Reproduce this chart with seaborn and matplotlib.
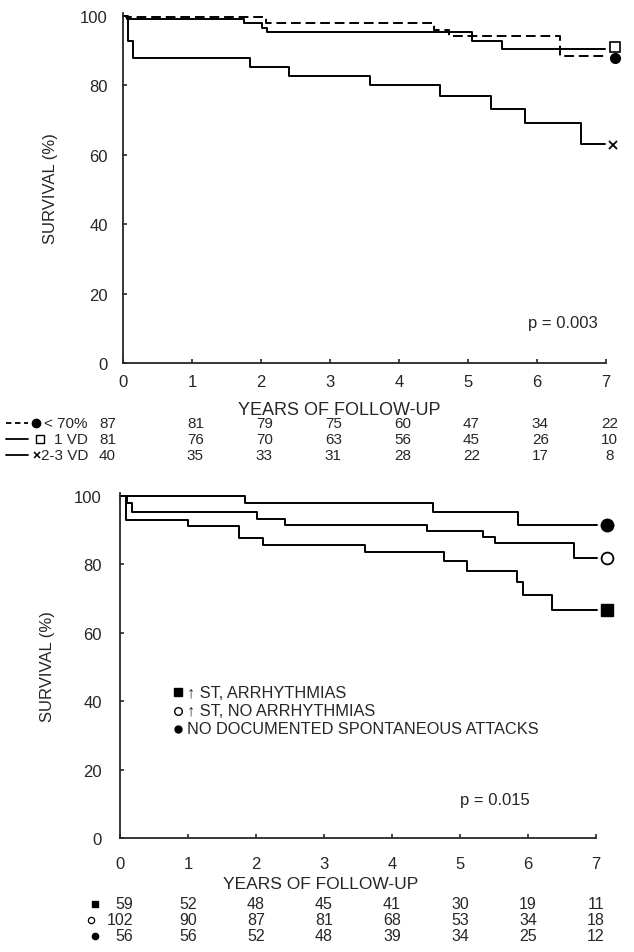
import numpy as np
import pandas as pd
import seaborn as sns
from matplotlib import pyplot as plt
from matplotlib import transforms
from matplotlib.lines import Line2D

sns.set_style('ticks')
plt.rcParams['font.family'] = ['Liberation Sans', 'DejaVu Sans']

# ---- data ----
years = [0, 1, 2, 3, 4, 5, 6, 7]

# top panel: ejection fraction / vessel disease groups
lt70_t = [0, 0.05, 2.07, 4.50, 4.73, 6.34, 6.98]
lt70_s = [100, 99.6, 98.0, 96.1, 94.1, 88.4, 88.4]
vd1_t = [0, 0.06, 1.75, 2.01, 2.09, 5.06, 5.49, 6.98]
vd1_s = [100, 99.1, 97.9, 96.6, 95.3, 92.9, 90.4, 90.4]
vd23_t = [0, 0.07, 0.14, 1.84, 2.41, 3.58, 4.59, 5.33, 5.83, 6.64, 6.98]
vd23_s = [100, 92.9, 87.8, 85.2, 82.6, 80.0, 76.8, 73.3, 69.3, 63.0, 63.0]
top_end = {'lt70': 87.9, 'vd1': 91.0, 'vd23': 62.7}
top_risk = {'lt70': [87, 81, 79, 75, 60, 47, 34, 22],
            'vd1': [81, 76, 70, 63, 56, 45, 26, 10],
            'vd23': [40, 35, 33, 31, 28, 22, 17, 8]}
top_p = 'p = 0.003'

# bottom panel: ST / arrhythmia groups
arr_t = [0, 0.09, 1.0, 1.75, 2.1, 3.6, 4.76, 5.1, 5.84, 5.92, 6.35, 7.01]
arr_s = [100, 93.1, 91.1, 87.7, 85.7, 83.6, 80.9, 78.2, 74.8, 71.2, 66.8, 66.8]
noarr_t = [0, 0.10, 0.17, 2.01, 2.43, 4.51, 5.34, 5.51, 6.68, 7.01]
noarr_s = [100, 98.1, 95.2, 93.3, 91.4, 89.9, 87.9, 86.2, 82.0, 82.0]
noatt_t = [0, 1.84, 4.60, 5.86, 7.01]
noatt_s = [100, 98.0, 95.2, 91.6, 91.6]
bot_end = {'arr': 66.8, 'noarr': 82.0, 'noatt': 91.6}
bot_risk = {'arr': [59, 52, 48, 45, 41, 30, 19, 11],
            'noarr': [102, 90, 87, 81, 68, 53, 34, 18],
            'noatt': [56, 56, 52, 48, 39, 34, 25, 12]}
bot_labels = {'arr': '\u2191 ST, ARRHYTHMIAS',
              'noarr': '\u2191 ST, NO ARRHYTHMIAS',
              'noatt': 'NO DOCUMENTED SPONTANEOUS ATTACKS'}
bot_p = 'p = 0.015'

W, H = 634, 953
fig = plt.figure(figsize=(W / 100, H / 100), dpi=100)


def fx(px):
    return px / W


def fy(py):
    return 1 - py / H


ax1 = fig.add_axes([fx(123), fy(364), 503.7 / W, 350.5 / H])
ax2 = fig.add_axes([fx(120), fy(839), 496.4 / W, 345.4 / H])


def style_axis(ax, xpad, ypad, label_xy, xlab_size):
    ax.set_xlim(0, 7.3)
    ax.set_ylim(0, 101)
    ax.set_xticks(years)
    ax.set_yticks(range(0, 101, 20))
    sns.despine(ax=ax)
    ax.spines['bottom'].set_bounds(0, 7)
    for s in ['left', 'bottom']:
        ax.spines[s].set_linewidth(1.3)
    ax.tick_params(axis='both', direction='in', length=3, width=1.2, labelsize=12)
    ax.tick_params(axis='x', pad=xpad)
    ax.tick_params(axis='y', pad=ypad)
    ax.set_ylabel('SURVIVAL (%)', fontsize=12)
    ax.yaxis.set_label_coords(label_xy[0], 0.5)
    ax.set_xlabel('YEARS OF FOLLOW-UP', fontsize=xlab_size)
    ax.xaxis.set_label_coords(label_xy[1], label_xy[2])


def km(ax, t, s, **kw):
    sns.lineplot(x=t, y=s, ax=ax, color='black', estimator=None, sort=False,
                 drawstyle='steps-post', lw=1.4, clip_on=False, **kw)


# ---- top panel ----
km(ax1, lt70_t, lt70_s, linestyle=(0, (5, 2.5)))
km(ax1, vd1_t, vd1_s)
km(ax1, vd23_t, vd23_s)
ax1.plot([7.13], [top_end['lt70']], 'o', color='k', ms=7, clip_on=False)
ax1.plot([7.13], [top_end['vd1']], 's', mfc='white', mec='k', mew=1.2, ms=7, clip_on=False)
ax1.plot([7.1], [top_end['vd23']], 'x', color='k', mew=1.3, ms=6, clip_on=False)
ax1.text(6.88, 11.8, top_p, ha='right', va='center', fontsize=12)
style_axis(ax1, 8, 11, (-0.13, 0.43, -0.108), 13)

# ---- bottom panel ----
km(ax2, noatt_t, noatt_s)
km(ax2, noarr_t, noarr_s)
km(ax2, arr_t, arr_s)
ax2.plot([7.16], [bot_end['noatt']], 'o', color='k', ms=9, clip_on=False)
ax2.plot([7.16], [bot_end['noarr']], 'o', mfc='white', mec='k', mew=1.3, ms=8.5, clip_on=False)
ax2.plot([7.16], [bot_end['arr']], 's', color='k', ms=8, clip_on=False)
ax2.text(6.03, 11.4, bot_p, ha='right', va='center', fontsize=12)
style_axis(ax2, 13, 13, (-0.131, 0.405, -0.110), 12.5)

# in-plot legend for bottom panel
leg_marks = {'arr': dict(marker='s', color='k', ms=6),
             'noarr': dict(marker='o', mfc='white', mec='k', mew=1.0, ms=5.5),
             'noatt': dict(marker='o', color='k', ms=5)}
for key, ypx in zip(['arr', 'noarr', 'noatt'], [693, 712, 730]):
    fig.add_artist(Line2D([fx(178)], [fy(ypx)], transform=fig.transFigure,
                          linestyle='none', **leg_marks[key]))
    fig.text(fx(187), fy(ypx), bot_labels[key], ha='left', va='center', fontsize=11.8)

# ---- numbers at risk, top ----
top_rows = [('lt70', 424, '< 70%', 36, dict(ls=(0, (3, 2)), marker='o', ms=6)),
            ('vd1', 440, '1 VD', 40, dict(ls='-', marker='s', ms=6, mfc='white', mew=1.0)),
            ('vd23', 456, '2-3 VD', 37, dict(ls='-', marker='x', ms=5, mew=1.1))]
tb1 = transforms.blended_transform_factory(ax1.transData, fig.transFigure)
for key, ypx, lab, mx, st in top_rows:
    fig.add_artist(Line2D([fx(6), fx(28)], [fy(ypx)] * 2, transform=fig.transFigure,
                          color='k', lw=1.3, ls=st['ls']))
    fig.add_artist(Line2D([fx(mx)], [fy(ypx)], transform=fig.transFigure, linestyle='none',
                          marker=st['marker'], ms=st['ms'], color='k',
                          mfc=st.get('mfc', 'k'), mew=st.get('mew', 1.0)))
    fig.text(fx(88), fy(ypx), lab, ha='right', va='center', fontsize=11)
    for i, (yr, n) in enumerate(zip(years, top_risk[key])):
        if i == 0:
            ax1.text(-0.1, fy(ypx), str(n), transform=tb1, ha='right', va='center', fontsize=11)
        else:
            ax1.text(yr + 0.05, fy(ypx), str(n), transform=tb1, ha='center', va='center', fontsize=11)

# ---- numbers at risk, bottom ----
bot_rows = [('arr', 905, 95, dict(marker='s', color='k', ms=5)),
            ('noarr', 921, 91, dict(marker='o', mfc='white', mec='k', mew=0.9, ms=4.5)),
            ('noatt', 937, 95, dict(marker='o', color='k', ms=4.5))]
tb2 = transforms.blended_transform_factory(ax2.transData, fig.transFigure)
for key, ypx, mx, st in bot_rows:
    fig.add_artist(Line2D([fx(mx)], [fy(ypx)], transform=fig.transFigure,
                          linestyle='none', **st))
    for i, (yr, n) in enumerate(zip(years, bot_risk[key])):
        if i == 0:
            ax2.text(0.19, fy(ypx), str(n), transform=tb2, ha='right', va='center', fontsize=11.5)
        else:
            ax2.text(yr, fy(ypx), str(n), transform=tb2, ha='center', va='center', fontsize=11.5)

fig.savefig('out.png', dpi=100)
plt.close('all')
